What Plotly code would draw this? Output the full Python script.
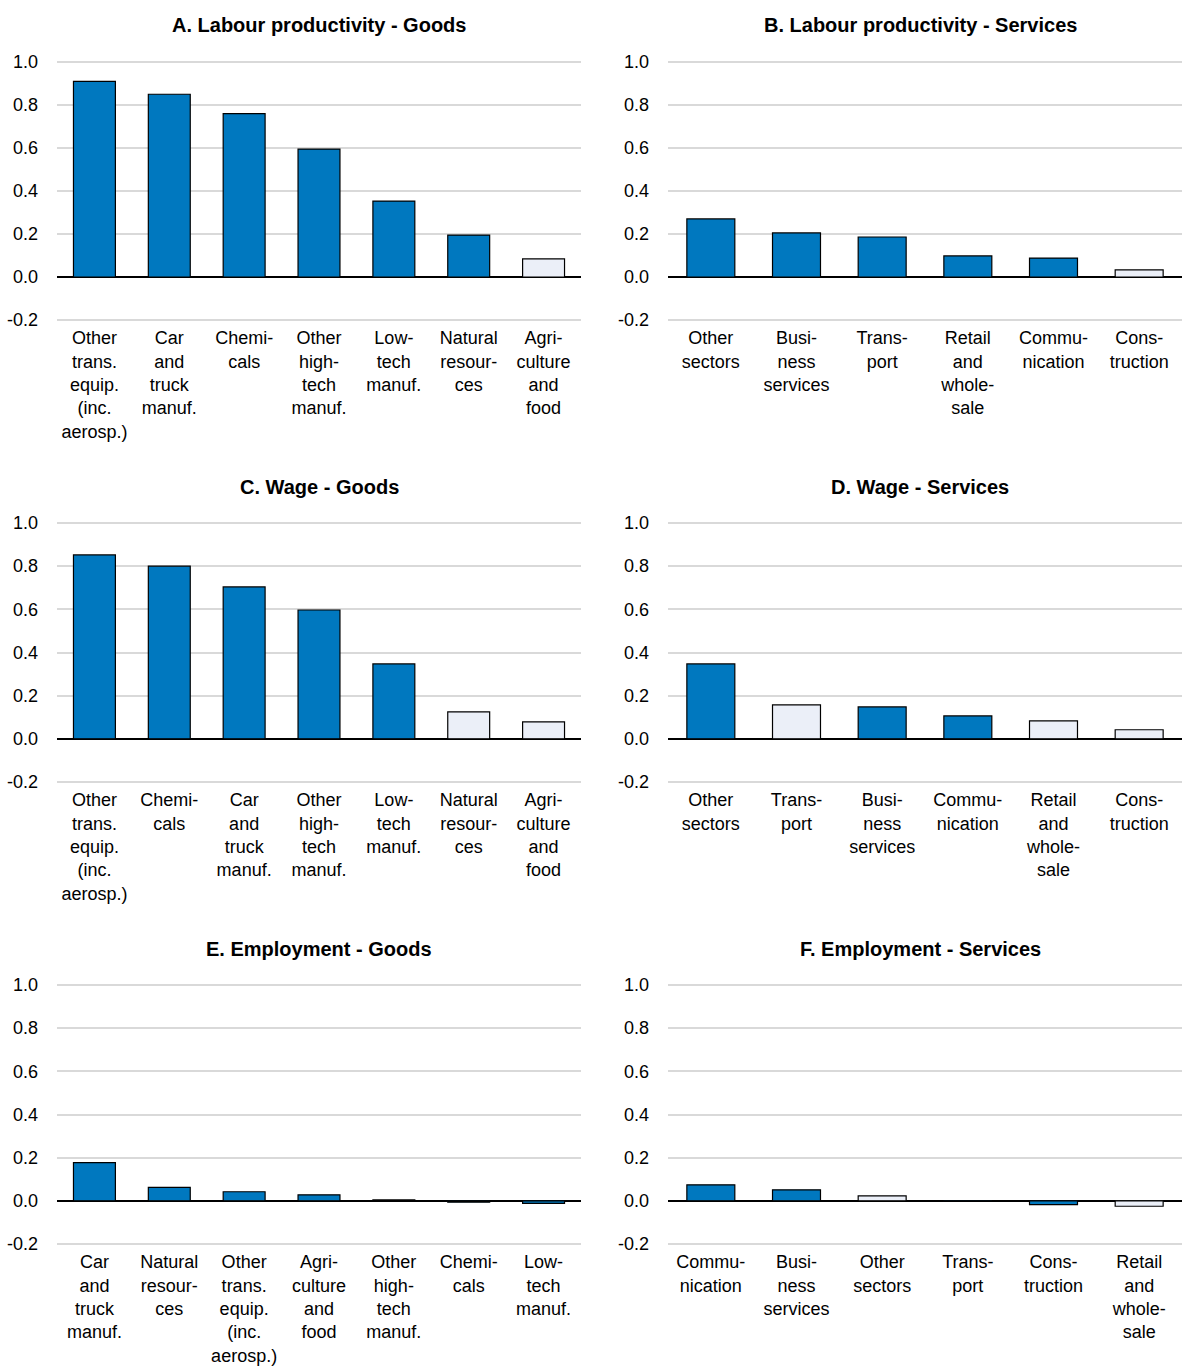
import plotly.graph_objects as go

# ---------------- data ----------------
titles = [
    "A. Labour productivity - Goods",
    "B. Labour productivity - Services",
    "C. Wage - Goods",
    "D. Wage - Services",
    "E. Employment - Goods",
    "F. Employment - Services",
]

cats_a = ["Other<br>trans.<br>equip.<br>(inc.<br>aerosp.)", "Car<br>and<br>truck<br>manuf.", "Chemi-<br>cals",
          "Other<br>high-<br>tech<br>manuf.", "Low-<br>tech<br>manuf.", "Natural<br>resour-<br>ces",
          "Agri-<br>culture<br>and<br>food"]
vals_a = [0.91, 0.85, 0.76, 0.595, 0.353, 0.195, 0.084]
light_a = [0, 0, 0, 0, 0, 0, 1]

cats_b = ["Other<br>sectors", "Busi-<br>ness<br>services", "Trans-<br>port", "Retail<br>and<br>whole-<br>sale",
          "Commu-<br>nication", "Cons-<br>truction"]
vals_b = [0.27, 0.205, 0.186, 0.098, 0.088, 0.033]
light_b = [0, 0, 0, 0, 0, 1]

cats_c = ["Other<br>trans.<br>equip.<br>(inc.<br>aerosp.)", "Chemi-<br>cals", "Car<br>and<br>truck<br>manuf.",
          "Other<br>high-<br>tech<br>manuf.", "Low-<br>tech<br>manuf.", "Natural<br>resour-<br>ces",
          "Agri-<br>culture<br>and<br>food"]
vals_c = [0.852, 0.80, 0.704, 0.597, 0.347, 0.125, 0.079]
light_c = [0, 0, 0, 0, 0, 1, 1]

cats_d = ["Other<br>sectors", "Trans-<br>port", "Busi-<br>ness<br>services", "Commu-<br>nication",
          "Retail<br>and<br>whole-<br>sale", "Cons-<br>truction"]
vals_d = [0.347, 0.157, 0.148, 0.106, 0.083, 0.042]
light_d = [0, 1, 0, 0, 1, 1]

cats_e = ["Car<br>and<br>truck<br>manuf.", "Natural<br>resour-<br>ces", "Other<br>trans.<br>equip.<br>(inc.<br>aerosp.)",
          "Agri-<br>culture<br>and<br>food", "Other<br>high-<br>tech<br>manuf.", "Chemi-<br>cals",
          "Low-<br>tech<br>manuf."]
vals_e = [0.177, 0.062, 0.042, 0.028, 0.004, -0.006, -0.012]
light_e = [0, 0, 0, 0, 0, 0, 0]

cats_f = ["Commu-<br>nication", "Busi-<br>ness<br>services", "Other<br>sectors", "Trans-<br>port",
          "Cons-<br>truction", "Retail<br>and<br>whole-<br>sale"]
vals_f = [0.074, 0.051, 0.023, -0.003, -0.018, -0.025]
light_f = [0, 0, 1, 0, 0, 1]

tick_vals = [-0.2, 0.0, 0.2, 0.4, 0.6, 0.8, 1.0]
tick_text = ["-0.2", "0.0", "0.2", "0.4", "0.6", "0.8", "1.0"]

# ---------------- style ----------------
BLUE = "#0078BF"
LIGHT = "#EBEFF8"
FONT = "Liberation Sans Narrow, Arial Narrow, Liberation Sans, Arial, sans-serif"
W, H = 1182, 1371

panels = [
    (cats_a, vals_a, light_a), (cats_b, vals_b, light_b),
    (cats_c, vals_c, light_c), (cats_d, vals_d, light_d),
    (cats_e, vals_e, light_e), (cats_f, vals_f, light_f),
]

cols_px = [(57, 581), (668, 1182)]
rows_px = [(62, 320), (523, 782), (985, 1244)]
title_y_px = [25, 487, 949]
YR = [-0.21, 1.01]

fig = go.Figure()
layout = dict(
    template="none",
    width=W, height=H,
    margin=dict(l=0, r=0, t=0, b=0, pad=0, autoexpand=False),
    paper_bgcolor="white", plot_bgcolor="white",
    showlegend=False,
    font=dict(family=FONT, size=18, color="black"),
    bargap=0.44,
)
annotations = []
for i, (cats, vals, light) in enumerate(panels):
    r, c = divmod(i, 2)
    n = i + 1
    xa = "x" if n == 1 else f"x{n}"
    ya = "y" if n == 1 else f"y{n}"
    x0, x1 = cols_px[c]
    ytop, ybot = rows_px[r]
    scale = (ybot - ytop) / 1.2
    ytop_d = ytop - (YR[1] - 1.0) * scale
    ybot_d = ybot + (-0.2 - YR[0]) * scale
    colors = [LIGHT if l else BLUE for l in light]
    fig.add_trace(go.Bar(
        x=cats, y=vals, xaxis=xa, yaxis=ya,
        marker=dict(color=colors, line=dict(color="black", width=1.2)),
        hoverinfo="x+y",
    ))
    layout["xaxis" if n == 1 else f"xaxis{n}"] = dict(
        domain=[x0 / W, x1 / W], anchor=ya, automargin=False,
        showgrid=False, showline=False, zeroline=False, ticks="",
        tickfont=dict(family=FONT, size=18, color="black"),
        ticklabelstandoff=3,
        fixedrange=True,
    )
    layout["yaxis" if n == 1 else f"yaxis{n}"] = dict(
        domain=[1 - ybot_d / H, 1 - ytop_d / H], anchor=xa, automargin=False,
        range=YR, tickvals=tick_vals, ticktext=tick_text,
        showgrid=True, gridcolor="#D9D9D9", gridwidth=1.6,
        zeroline=True, zerolinecolor="black", zerolinewidth=2,
        showline=False, ticks="",
        tickfont=dict(family=FONT, size=18, color="black"),
        ticklabelstandoff=18,
        fixedrange=True,
    )
    annotations.append(dict(
        text=f"<b>{titles[i]}</b>", xref="paper", yref="paper",
        x=(x0 + x1) / 2 / W if c == 0 else (x0 + x1 - 10) / 2 / W,
        y=1 - title_y_px[r] / H,
        xanchor="center", yanchor="middle", showarrow=False,
        font=dict(family=FONT, size=20, color="black"),
    ))
layout["annotations"] = annotations
fig.update_layout(**layout)
fig.write_html("out.html")
